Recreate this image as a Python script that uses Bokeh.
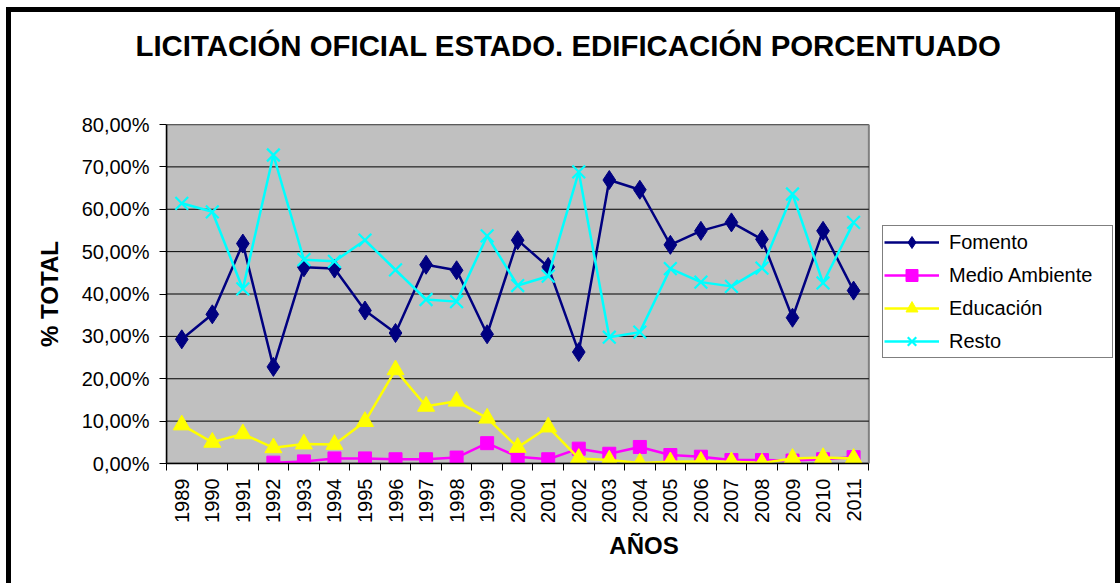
import math
from bokeh.plotting import figure
from bokeh.models import (Range1d, FixedTicker, Legend, LegendItem, ColumnDataSource, Title)
from bokeh.embed import file_html
from bokeh.resources import INLINE

years = list(range(1989, 2012))
fomento = [29.3, 35.2, 51.9, 22.8, 46.3, 46.0, 36.1, 30.8, 46.9, 45.6, 30.5, 52.7,
           46.4, 26.3, 66.9, 64.6, 51.6, 54.9, 56.9, 52.9, 34.4, 54.9, 40.8]
medio_ambiente = [float("nan"), float("nan"), float("nan"), 0.2, 0.5, 1.2, 1.2, 1.0, 1.0, 1.4,
                  4.8, 1.6, 1.0, 3.5, 2.3, 3.9, 2.0, 1.6, 0.8, 0.8, 0.7, 1.0, 1.5]
educacion = [9.1, 5.0, 7.0, 3.7, 4.6, 4.5, 9.9, 22.1, 13.5, 14.7, 10.7, 3.8,
             8.6, 1.2, 0.8, 0.1, 0.4, 0.5, 0.4, 0.1, 1.2, 1.4, 1.2]
resto = [61.4, 59.4, 41.2, 72.8, 48.1, 47.7, 52.7, 45.7, 38.7, 38.2, 53.7, 42.0,
         44.2, 68.8, 29.8, 31.0, 46.0, 42.8, 41.8, 46.1, 63.6, 42.6, 56.9]
ytick_values = [0, 10, 20, 30, 40, 50, 60, 70, 80]
ytick_labels = ["0,00%", "10,00%", "20,00%", "30,00%", "40,00%", "50,00%", "60,00%", "70,00%", "80,00%"]
series_names = ["Fomento", "Medio Ambiente", "Educación", "Resto"]
chart_title = "LICITACIÓN OFICIAL ESTADO. EDIFICACIÓN PORCENTUADO"

FONT = "Liberation Sans"

# layout (pixels inside the canvas)
W, H = 1104, 571
ML, MR, MT, MB = 155, 4, 112, 125        # borders around the (extended) frame
PLOT_W = 695                             # width of the grey plot area
frame_w = W - ML - MR

x0, x1 = years[0] - 0.5, years[-1] + 0.5
y0, y1 = ytick_values[0], ytick_values[-1]
x_end = x0 + (x1 - x0) * frame_w / PLOT_W

p = figure(width=W, height=H, output_backend="svg", toolbar_location=None,
           x_range=Range1d(x0, x_end), y_range=Range1d(y0, y1),
           min_border_left=ML, min_border_right=MR, min_border_top=MT, min_border_bottom=MB)
p.title = Title(text=chart_title, text_font=FONT, text_font_size="29.4px", text_font_style="bold",
                text_color="black", align="left", offset=-31, vertical_align="top", standoff=0)
# spacer between title and plot area
p.add_layout(Title(text=" ", text_font_size="1px", standoff=58), "above")
p.styles = {"box-sizing": "content-box", "border-style": "solid", "border-color": "black",
            "border-width": "5px 5px 0 5px", "margin": "7px 0 0 6px"}
p.background_fill_color = "white"
p.border_fill_color = "white"
p.outline_line_color = None

p.xgrid.grid_line_color = None
p.ygrid.grid_line_color = None

# grey plot area + gridlines
p.quad(left=[x0], right=[x1], bottom=[y0], top=[y1], fill_color="#C0C0C0",
       line_color="#808080", line_width=2)
p.segment(x0=[x0] * len(ytick_values), x1=[x1] * len(ytick_values), y0=ytick_values, y1=ytick_values,
          line_color="black", line_width=1)

# y axis
ya = p.yaxis[0]
ya.bounds = (y0, y1)
ya.ticker = FixedTicker(ticks=ytick_values)
ya.major_label_overrides = {v: l for v, l in zip(ytick_values, ytick_labels)}
ya.major_tick_out = 7
ya.major_tick_in = 0
ya.minor_tick_out = 0
ya.minor_tick_in = 0
ya.axis_line_color = "black"
ya.axis_line_width = 1.5
ya.major_label_text_font = FONT
ya.major_label_text_font_size = "20px"
ya.major_label_text_color = "black"
ya.major_label_standoff = 10
ya.axis_label = "% TOTAL"
ya.axis_label_text_font = FONT
ya.axis_label_text_font_size = "24px"
ya.axis_label_text_font_style = "bold"
ya.axis_label_text_color = "black"
ya.axis_label_standoff = 16

# x axis
xa = p.xaxis[0]
xa.bounds = (x0, x1)
xa.ticker = FixedTicker(ticks=years, minor_ticks=[y - 0.5 for y in years] + [x1])
xa.major_label_overrides = {y: str(y) for y in years}
xa.major_tick_out = 0
xa.major_tick_in = 0
xa.minor_tick_out = 7
xa.minor_tick_in = 0
xa.axis_line_color = "black"
xa.axis_line_width = 1.5
xa.major_label_orientation = math.pi / 2
xa.major_label_text_font = FONT
xa.major_label_text_font_size = "20px"
xa.major_label_text_color = "black"
xa.major_label_standoff = 8
xa.axis_label = "AÑOS"
xa.axis_label_text_font = FONT
xa.axis_label_text_font_size = "24px"
xa.axis_label_text_font_style = "bold"
xa.axis_label_text_color = "black"
xa.axis_label_standoff = 6

src = ColumnDataSource(dict(x=years, f=fomento, m=medio_ambiente, e=educacion, r=resto))

lw = 2.5
l1 = p.line("x", "f", source=src, line_color="#000080", line_width=lw)
s1 = p.scatter("x", "f", source=src, marker="diamond", size=19, fill_color="#000080", line_color="#000080")
l2 = p.line("x", "m", source=src, line_color="#FF00FF", line_width=lw)
s2 = p.scatter("x", "m", source=src, marker="square", size=13, fill_color="#FF00FF", line_color="#FF00FF")
l3 = p.line("x", "e", source=src, line_color="#FFFF00", line_width=lw)
s3 = p.scatter("x", "e", source=src, marker="triangle", size=17, fill_color="#FFFF00", line_color="#FFFF00")
l4 = p.line("x", "r", source=src, line_color="#00FFFF", line_width=lw)
s4 = p.scatter("x", "r", source=src, marker="x", size=18, line_color="#00FFFF", line_width=2.2)

legend = Legend(items=[LegendItem(label=series_names[0], renderers=[l1, s1]),
                       LegendItem(label=series_names[1], renderers=[l2, s2]),
                       LegendItem(label=series_names[2], renderers=[l3, s3]),
                       LegendItem(label=series_names[3], renderers=[l4, s4])],
                location=(716, 105))
legend.label_text_font = FONT
legend.label_text_font_size = "20px"
legend.label_text_color = "black"
legend.glyph_width = 55
legend.glyph_height = 30
legend.label_height = 30
legend.label_width = 162
legend.label_standoff = 10
legend.spacing = 3
legend.padding = 1
legend.margin = 0
legend.border_line_color = "black"
legend.border_line_width = 1
legend.background_fill_color = "white"
legend.background_fill_alpha = 1
p.add_layout(legend, "center")

open("out.html", "w").write(file_html(p, INLINE))
